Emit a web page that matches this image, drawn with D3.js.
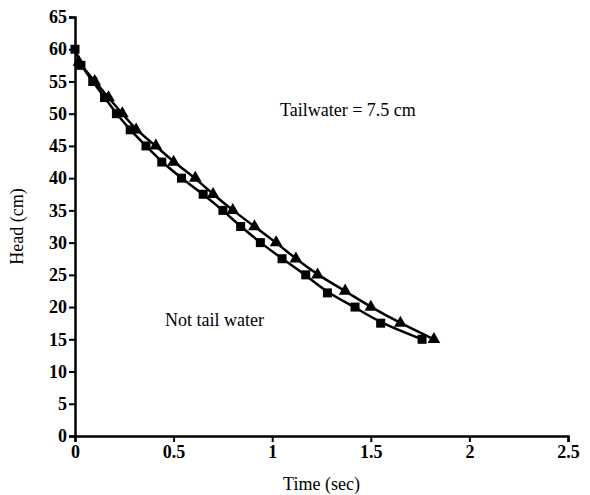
<!DOCTYPE html>
<html>
<head>
<meta charset="utf-8">
<script src="https://cdn.jsdelivr.net/npm/d3@7"></script>
<style>
  body { margin: 0; background: #fff; }
  svg text { font-family: "Liberation Serif", "Tinos", "DejaVu Serif", serif !important; }
</style>
</head>
<body>
<script>
var width = 590,
    height = 495,
    margin = {top: 17, right: 22, bottom: 59, left: 75};

// Not tail water (squares)
var sqTime = [0, 0.03, 0.09, 0.15, 0.21, 0.28, 0.36, 0.44, 0.54, 0.65, 0.75, 0.84, 0.94, 1.05, 1.17, 1.28, 1.42, 1.55, 1.76];
var sqHead = [60, 57.5, 55, 52.5, 50, 47.5, 45, 42.5, 40, 37.5, 35, 32.5, 30, 27.5, 25, 22.2, 20, 17.5, 15];

// Tailwater = 7.5 cm (triangles)
var trTime = [0.02, 0.1, 0.17, 0.24, 0.31, 0.41, 0.5, 0.61, 0.7, 0.8, 0.91, 1.02, 1.12, 1.23, 1.37, 1.5, 1.65, 1.82];
var trHead = [58, 55, 52.5, 50, 47.5, 45, 42.5, 40, 37.5, 35, 32.5, 30, 27.5, 25, 22.5, 20, 17.5, 15];

var xTicks = [0, 0.5, 1, 1.5, 2, 2.5];
var yTicks = d3.range(0, 66, 5);

var svg = d3.select("body").append("svg")
    .attr("width", width)
    .attr("height", height)
    .attr("font-family", "Liberation Serif, serif");

var x = d3.scaleLinear().domain([0, 2.5]).range([margin.left, width - margin.right]);
var y = d3.scaleLinear().domain([0, 65]).range([height - margin.bottom, margin.top]);

var xAxis = svg.append("g")
    .attr("transform", "translate(0," + y(0) + ")")
    .call(d3.axisBottom(x).tickValues(xTicks).tickFormat(d3.format("")).tickSize(6).tickPadding(3));

var yAxis = svg.append("g")
    .attr("transform", "translate(" + x(0) + ",0)")
    .call(d3.axisLeft(y).tickValues(yTicks).tickSize(6).tickPadding(2));

[xAxis, yAxis].forEach(function(g) {
    g.attr("font-family", null).attr("font-size", null);
    g.select(".domain").attr("stroke", "#000").attr("stroke-width", 2.5);
    g.selectAll(".tick line").attr("stroke", "#000").attr("stroke-width", 2);
    g.selectAll(".tick text")
        .attr("fill", "#000")
        .style("font-size", "18px")
        .style("font-weight", "bold");
});

var line = d3.line()
    .x(function(d) { return x(d[0]); })
    .y(function(d) { return y(d[1]); })
    .curve(d3.curveBasis);

var sq = sqTime.map(function(t, i) { return [t, sqHead[i]]; });
var tr = trTime.map(function(t, i) { return [t, trHead[i]]; });

svg.append("path")
    .attr("d", line(sq))
    .attr("fill", "none")
    .attr("stroke", "#000")
    .attr("stroke-width", 2.5);

svg.append("path")
    .attr("d", line(tr))
    .attr("fill", "none")
    .attr("stroke", "#000")
    .attr("stroke-width", 2.5);

svg.selectAll(".sq")
    .data(sq)
    .enter().append("rect")
    .attr("x", function(d) { return x(d[0]) - 4.5; })
    .attr("y", function(d) { return y(d[1]) - 4.5; })
    .attr("width", 9)
    .attr("height", 9)
    .attr("fill", "#000");

svg.selectAll(".tr")
    .data(tr)
    .enter().append("path")
    .attr("transform", function(d) { return "translate(" + x(d[0]) + "," + y(d[1]) + ")"; })
    .attr("d", d3.symbol().type(d3.symbolTriangle).size(70))
    .attr("fill", "#000");

svg.append("text")
    .attr("x", 280)
    .attr("y", 116)
    .style("font-size", "18px")
    .text("Tailwater = 7.5 cm");

svg.append("text")
    .attr("x", 165)
    .attr("y", 326)
    .style("font-size", "18px")
    .text("Not tail water");

svg.append("text")
    .attr("x", (x(0) + x(2.5)) / 2)
    .attr("y", 490)
    .attr("text-anchor", "middle")
    .style("font-size", "18px")
    .text("Time (sec)");

svg.append("text")
    .attr("transform", "translate(23," + y(32.5) + ") rotate(-90)")
    .attr("text-anchor", "middle")
    .style("font-size", "18px")
    .text("Head (cm)");
</script>
</body>
</html>
